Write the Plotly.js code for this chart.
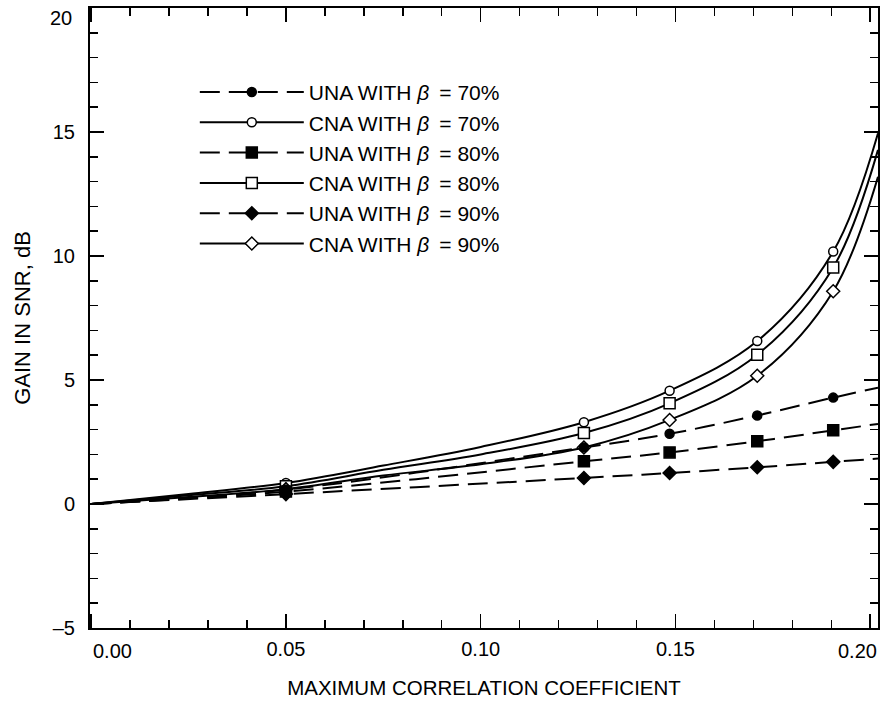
<!DOCTYPE html>
<html>
<head>
<meta charset="utf-8">
<script src="https://cdn.plot.ly/plotly-3.0.1.min.js"></script>
<style>html,body{margin:0;padding:0;background:#fff;}#chart{width:881px;height:702px;}</style>
</head>
<body>
<div id="chart"></div>
<script>
// ---- data ----
const markerX = [0.05, 0.1265, 0.1485, 0.171, 0.1905];

const una70Marks = [0.58, 2.28, 2.83, 3.57, 4.29];
const cna70Marks = [0.85, 3.30, 4.57, 6.57, 10.18];
const una80Marks = [0.50, 1.72, 2.08, 2.53, 2.97];
const cna80Marks = [0.72, 2.86, 4.06, 6.02, 9.54];
const una90Marks = [0.40, 1.05, 1.25, 1.48, 1.70];
const cna90Marks = [0.60, 2.28, 3.39, 5.17, 8.58];

// curve points (lines)
const cnaCurveX = [0, 0.025, 0.05, 0.075, 0.10, 0.1265, 0.1485, 0.171, 0.1905, 0.202];
const cna70Curve = [0, 0.40, 0.85, 1.55, 2.30, 3.30, 4.57, 6.57, 10.18, 14.95];
const cna80Curve = [0, 0.35, 0.72, 1.38, 2.00, 2.86, 4.06, 6.02, 9.54, 14.28];
const cna90Curve = [0, 0.28, 0.60, 1.15, 1.60, 2.28, 3.39, 5.17, 8.58, 13.20];

const unaCurveX = [0, 0.05, 0.1265, 0.1485, 0.171, 0.1905, 0.202];
const una70Curve = [0, 0.58, 2.28, 2.83, 3.57, 4.29, 4.69];
const una80Curve = [0, 0.50, 1.72, 2.08, 2.53, 2.97, 3.23];
const una90Curve = [0, 0.40, 1.05, 1.25, 1.48, 1.70, 1.83];

const seriesNames = [
  'UNA WITH <i>β</i>\u2009 = 70%', 'CNA WITH <i>β</i>\u2009 = 70%',
  'UNA WITH <i>β</i>\u2009 = 80%', 'CNA WITH <i>β</i>\u2009 = 80%',
  'UNA WITH <i>β</i>\u2009 = 90%', 'CNA WITH <i>β</i>\u2009 = 90%'
];

const xTickVals = [0, 0.05, 0.10, 0.15, 0.20];
const xTickText = ['0.00', '0.05', '0.10', '0.15', '0.20'];
const yTickVals = [-5, 0, 5, 10, 15, 20];
const yTickText = ['\u20135', '0', '5', '10', '15', '20'];

// ---- styles ----
const DASH = '20px,9px';
const series = [
  {name: seriesNames[0], cx: unaCurveX, cy: una70Curve, my: una70Marks, dash: DASH, sym: 'circle', size: 9, fill: 'black'},
  {name: seriesNames[1], cx: cnaCurveX, cy: cna70Curve, my: cna70Marks, dash: 'solid', sym: 'circle', size: 9, fill: 'white'},
  {name: seriesNames[2], cx: unaCurveX, cy: una80Curve, my: una80Marks, dash: DASH, sym: 'square', size: 11, fill: 'black'},
  {name: seriesNames[3], cx: cnaCurveX, cy: cna80Curve, my: cna80Marks, dash: 'solid', sym: 'square', size: 11, fill: 'white'},
  {name: seriesNames[4], cx: unaCurveX, cy: una90Curve, my: una90Marks, dash: DASH, sym: 'diamond', size: 10, fill: 'black'},
  {name: seriesNames[5], cx: cnaCurveX, cy: cna90Curve, my: cna90Marks, dash: 'solid', sym: 'diamond', size: 10, fill: 'white'}
];

const traces = [];
// curves
series.forEach((s, i) => {
  traces.push({
    x: s.cx, y: s.cy, type: 'scatter', mode: 'lines',
    line: {color: 'black', width: 2, dash: s.dash, shape: 'spline', smoothing: 1},
    showlegend: false, legendgroup: 'g' + i, hoverinfo: 'skip'
  });
});
// markers: CNA (open) first, UNA (filled) on top
[1, 3, 5, 0, 2, 4].forEach(i => {
  const s = series[i];
  traces.push({
    x: markerX, y: s.my, type: 'scatter', mode: 'markers',
    marker: {symbol: s.sym, size: s.size, color: s.fill, line: {color: 'black', width: 1.5}},
    showlegend: false, legendgroup: 'g' + i
  });
});
// legend entries
series.forEach((s, i) => {
  traces.push({
    x: [null], y: [null], type: 'scatter', mode: 'lines+markers', name: s.name,
    line: {color: 'black', width: 2, dash: s.dash},
    marker: {symbol: s.sym, size: s.size, color: s.fill, line: {color: 'black', width: 1.5}},
    legendgroup: 'g' + i, showlegend: true
  });
});

const FONT = 'Liberation Sans, Arial, Helvetica, sans-serif';

// end tick labels are drawn shifted inward (as in the reference) so they stay inside the page
const nX = xTickText.length, nY = yTickText.length;
const xTickTextAxis = xTickText.map((t, i) => (i === 0 || i === nX - 1) ? '' : t);
const yTickTextAxis = yTickText.map((t, i) => (i === nY - 1) ? '' : t);
const annotations = [
  {text: xTickText[0], xref: 'paper', yref: 'paper', x: 0, y: 0, xanchor: 'left', yanchor: 'middle',
   xshift: 1, yshift: -23, showarrow: false, font: {family: FONT, size: 20, color: 'black'}},
  {text: xTickText[nX - 1], xref: 'paper', yref: 'paper', x: 1, y: 0, xanchor: 'right', yanchor: 'middle',
   xshift: 1, yshift: -23, showarrow: false, font: {family: FONT, size: 20, color: 'black'}},
  {text: yTickText[nY - 1], xref: 'paper', yref: 'paper', x: 0, y: 1, xanchor: 'right', yanchor: 'middle',
   xshift: -16, yshift: -10, showarrow: false, font: {family: FONT, size: 20, color: 'black'}}
];

const layout = {
  width: 881, height: 702,
  margin: {l: 90, r: 3, t: 8, b: 74},
  paper_bgcolor: 'white', plot_bgcolor: 'white',
  font: {family: FONT, size: 20, color: 'black'},
  showlegend: true,
  annotations: annotations,
  legend: {
    x: 0.133, y: 0.897, xanchor: 'left', yanchor: 'top',
    bgcolor: 'rgba(0,0,0,0)', borderwidth: 0,
    font: {family: FONT, size: 21, color: 'black'},
    itemwidth: 104, traceorder: 'grouped', tracegroupgap: 0,
    itemclick: false
  },
  xaxis: {
    range: [-0.0003, 0.202],
    tickmode: 'array', tickvals: xTickVals, ticktext: xTickTextAxis,
    ticks: 'inside', ticklen: 14, tickwidth: 1.5, tickcolor: 'black',
    minor: {dtick: 0.01, tick0: 0, ticks: 'inside', ticklen: 8, tickwidth: 1.5, tickcolor: 'black', showgrid: false},
    showline: true, linecolor: 'black', linewidth: 2, mirror: 'ticks',
    showgrid: false, zeroline: false,
    ticklabelstandoff: 2,
    tickfont: {family: FONT, size: 20},
    title: {text: 'MAXIMUM CORRELATION COEFFICIENT', font: {family: FONT, size: 20.5}, standoff: 22}
  },
  yaxis: {
    range: [-5, 20.001],
    tickmode: 'array', tickvals: yTickVals, ticktext: yTickTextAxis,
    ticks: 'inside', ticklen: 14, tickwidth: 1.5, tickcolor: 'black',
    minor: {dtick: 1, tick0: 0, ticks: 'inside', ticklen: 8, tickwidth: 1.5, tickcolor: 'black', showgrid: false},
    showline: true, linecolor: 'black', linewidth: 2, mirror: 'ticks',
    showgrid: false, zeroline: false,
    ticklabelstandoff: 9,
    tickfont: {family: FONT, size: 20},
    title: {text: 'GAIN IN SNR, dB', font: {family: FONT, size: 22}, standoff: 16}
  }
};

Plotly.newPlot('chart', traces, layout, {displayModeBar: false, staticPlot: true});
</script>
</body>
</html>
